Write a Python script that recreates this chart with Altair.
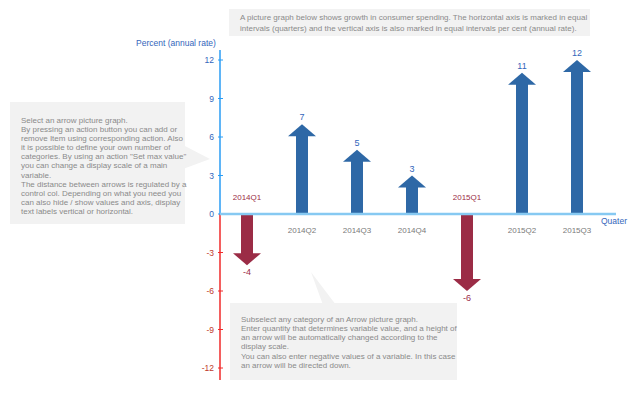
import altair as alt
import pandas as pd

# ---------------- data ----------------
quarters = ["2014Q1", "2014Q2", "2014Q3", "2014Q4", "2015Q1", "2015Q2", "2015Q3"]
values = [-4, 7, 5, 3, -6, 11, 12]
y_ticks = [-12, -9, -6, -3, 0, 3, 6, 9, 12]

y_title = "Percent (annual rate)"
x_title = "Quater"

top_note = [
    "A picture graph below shows growth in consumer spending. The horizontal axis is marked in equal",
    "intervals (quarters) and the vertical axis is also marked in equal intervals per cent (annual rate).",
]
left_note = [
    "Select an arrow picture graph.",
    "By pressing an action button you can add or",
    "remove Item using corresponding action. Also",
    "it is possible to define your own number of",
    "categories. By using an action \"Set max value\"",
    "you can change a display scale of a main",
    "variable.",
    "The distance between arrows is regulated by a",
    "control col. Depending on what you need you",
    "can also hide / show values and axis, display",
    "text labels vertical or horizontal.",
]
bottom_note = [
    "Subselect any category of an Arrow picture graph.",
    "Enter quantity that determines variable value, and a height of",
    "an arrow will be automatically changed according to the",
    "display scale.",
    "You can also enter negative values of a variable. In this case",
    "an arrow will be directed down.",
]

# ---------------- styles ----------------
FONT = "Liberation Sans"
BLUE = "#2e68a6"
RED = "#9b2c46"
BLUE_TXT = "#3366bb"
RED_TXT = "#c0392b"
NOTE_BG = "#f2f2f2"
NOTE_TXT = "#8a8a8a"
CAT_TXT = "#7a7a7a"

df = pd.DataFrame({"quarter": quarters, "value": values, "idx": list(range(len(quarters)))})
ticks_df = pd.DataFrame({"tick": y_ticks})

xs = alt.Scale(domain=[0, len(quarters) - 1], range=[247, 577], padding=0, nice=False, zero=False)
ys = alt.Scale(domain=[-12, 12], range=[368, 60], padding=0, nice=False)


def X(field="idx:Q"):
    return alt.X(field, scale=xs, axis=None)


def Y(field):
    return alt.Y(field, scale=ys, axis=None)


base = alt.Chart(df).transform_calculate(
    shaft="datum.value - (datum.value > 0 ? 0.85 : -0.85)",
    zero="0",
    label="'' + datum.value",
)
pos = base.transform_filter("datum.value > 0")
neg = base.transform_filter("datum.value < 0")

shaft_pos = pos.mark_bar(size=12, color=BLUE).encode(x=X(), y=Y("shaft:Q"), y2="zero:Q")
shaft_neg = neg.mark_bar(size=12, color=RED).encode(x=X(), y=Y("shaft:Q"), y2="zero:Q")

head_up = pos.mark_point(
    shape="M -1 0.86 L 1 0.86 L 0 0 Z", size=784, filled=True, opacity=1,
    color=BLUE, strokeWidth=0,
).encode(x=X(), y=Y("value:Q"))
head_down = neg.mark_point(
    shape="M -1 -0.86 L 1 -0.86 L 0 0 Z", size=784, filled=True, opacity=1,
    color=RED, strokeWidth=0,
).encode(x=X(), y=Y("value:Q"))

val_pos = pos.mark_text(font=FONT, fontSize=9, color=BLUE_TXT, dy=-7, baseline="middle").encode(
    x=X(), y=Y("value:Q"), text="label:N")
val_neg = neg.mark_text(font=FONT, fontSize=9, color=RED, dy=7, baseline="middle").encode(
    x=X(), y=Y("value:Q"), text="label:N")

cat_pos = pos.mark_text(font=FONT, fontSize=8, color=CAT_TXT, dy=17, baseline="middle").encode(
    x=X(), y=Y("zero:Q"), text="quarter:N")
cat_neg = neg.mark_text(font=FONT, fontSize=8, color=RED, dy=-16, baseline="middle").encode(
    x=X(), y=Y("zero:Q"), text="quarter:N")

one = alt.Data(values=[{}])

# axes
yaxis_pos = alt.Chart(one).mark_rule(color="#2a9df4", strokeWidth=1.5).encode(
    x=alt.value(220), y=alt.Y(datum=0, type="quantitative", scale=ys, axis=None), y2=alt.value(50))
yaxis_neg = alt.Chart(one).mark_rule(color="#f02a2a", strokeWidth=1.5).encode(
    x=alt.value(220), y=alt.Y(datum=0, type="quantitative", scale=ys, axis=None), y2=alt.value(380))
xaxis = alt.Chart(one).mark_rule(color="#86c9f2", strokeWidth=2.5).encode(
    x=alt.value(220), x2=alt.value(616), y=alt.Y(datum=0, type="quantitative", scale=ys, axis=None))

tick_base = alt.Chart(ticks_df).transform_calculate(tlabel="'' + datum.tick")
tick_color = alt.condition("datum.tick < 0", alt.value(RED_TXT), alt.value(BLUE_TXT))
tick_marks = tick_base.mark_rule(strokeWidth=1).encode(
    x=alt.value(218), x2=alt.value(223), y=Y("tick:Q"),
    color=alt.condition("datum.tick < 0", alt.value("#f02a2a"), alt.value("#2a9df4")))
tick_labels = tick_base.mark_text(font=FONT, fontSize=8.5, align="right", baseline="middle").encode(
    x=alt.value(214), y=Y("tick:Q"), text="tlabel:N", color=tick_color)

ytitle = alt.Chart(one).mark_text(font=FONT, fontSize=8.5, color=BLUE_TXT, align="left", baseline="middle",
                                  text=y_title).encode(x=alt.value(136), y=alt.value(43))
xtitle = alt.Chart(one).mark_text(font=FONT, fontSize=8.5, color=BLUE_TXT, align="left", baseline="middle",
                                  text=x_title).encode(x=alt.value(601), y=alt.value(221))


# notes
def box(x1, x2, y1, y2):
    return alt.Chart(one).mark_rect(color=NOTE_BG).encode(
        x=alt.value(x1), x2=alt.value(x2), y=alt.value(y1), y2=alt.value(y2))


def note(lines, x, y, lh):
    return alt.Chart(one).mark_text(
        font=FONT, fontSize=8, color=NOTE_TXT, align="left", baseline="top",
        lineBreak="\n", lineHeight=lh, text="\n".join(lines),
    ).encode(x=alt.value(x), y=alt.value(y))


def callout(shape, x, y):
    return alt.Chart(one).mark_point(shape=shape, size=4, filled=True, opacity=1,
                                     color=NOTE_BG, strokeWidth=0).encode(
        x=alt.value(x), y=alt.value(y))


top_box = box(229, 590, 9, 36)
top_text = note(top_note, 240, 14, 10.6)

left_box = box(10, 185, 102, 224)
left_tip = callout("M -2 -12 L 25 2 L -2 12 Z", 185, 157)
left_text = note(left_note, 21, 116.5, 9.17)

bottom_box = box(230, 457, 303, 380)
bottom_tip = callout("M 0 0 L 12 33 L 25 33 Z", 311, 272)
bottom_text = note(bottom_note, 241, 315.5, 9.3)

chart = alt.layer(
    top_box, top_text, left_box, left_tip, left_text, bottom_box, bottom_tip, bottom_text,
    yaxis_pos, yaxis_neg, tick_marks, tick_labels, ytitle,
    shaft_pos, shaft_neg, head_up, head_down, xaxis, xtitle,
    val_pos, val_neg, cat_pos, cat_neg,
).properties(
    width=640, height=397, autosize="none", padding=0, background="white",
).configure_view(stroke=None)

chart.save("out.html", embed_options={"renderer": "svg", "actions": False})
